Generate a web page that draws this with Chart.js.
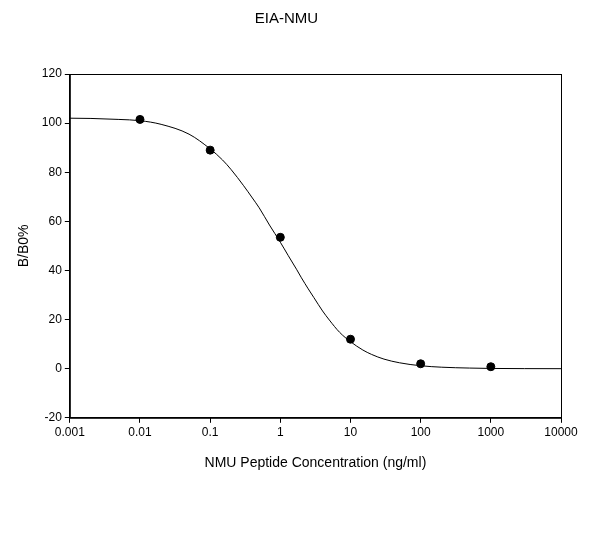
<!DOCTYPE html>
<html><head><meta charset="utf-8">
<script src="https://cdn.jsdelivr.net/npm/chart.js@4"></script>
<style>body{margin:0;background:#fff}#w{width:608px;height:534px}</style>
</head><body><div id="w"><canvas id="c"></canvas></div>
<script>
const concentrations=[0.01,0.1,1,10,100,1000];
const bb0=[101.5,89,53.5,12,2,0.8];
const curveX=[0.001,0.002,0.005,0.01,0.02,0.05,0.1,0.15,0.2,0.3,0.4,0.5,0.7,1,1.3,1.7,2,2.5,3,4,5,7,10,15,20,30,50,100,200,500,1000,3000,10000];
const curveY=[102,101.9,101.5,101,99.5,95.5,89.5,85,81,74.5,69.5,65.5,58.5,51.5,46,40.5,37,32.5,29,23.5,19.8,14.8,11,7.6,5.8,3.9,2.4,1.2,0.6,0.25,0.1,0.03,0];
const xTicks=[0.001,0.01,0.1,1,10,100,1000,10000];
const boxPlugin={id:'box',afterDraw(ch){const a=ch.chartArea,c=ch.ctx;c.save();c.strokeStyle='#000';c.lineWidth=1;c.strokeRect(a.left+0.5,a.top+0.5,a.right-a.left,a.bottom-a.top);c.restore();}};
new Chart(document.getElementById('c'),{
 type:'scatter',
 data:{datasets:[
  {type:'line',data:curveX.map((x,i)=>({x,y:curveY[i]})),borderColor:'#000',borderWidth:1,pointRadius:0,cubicInterpolationMode:'monotone'},
  {data:concentrations.map((x,i)=>({x,y:bb0[i]})),backgroundColor:'#000',borderColor:'#000',pointRadius:4}
 ]},
 plugins:[boxPlugin],
 options:{responsive:true,maintainAspectRatio:false,animation:false,
  layout:{padding:{top:0,right:47,bottom:58,left:12}},
  plugins:{legend:{display:false},tooltip:{enabled:false},
   title:{display:true,text:'EIA-NMU',color:'#000',font:{family:'Liberation Sans',size:15,weight:'normal'},padding:{top:10,bottom:46}}},
  scales:{
   x:{type:'logarithmic',min:0.001,max:10000,
    afterBuildTicks(s){s.ticks=xTicks.map(v=>({value:v}));},
    ticks:{color:'#000',font:{family:'Liberation Sans',size:12},maxRotation:0,autoSkip:false,callback:v=>String(v)},
    grid:{display:true,drawOnChartArea:false,color:'#000',tickLength:5},border:{color:'#000'},
    title:{display:true,text:'NMU Peptide Concentration (ng/ml)',color:'#000',font:{family:'Liberation Sans',size:14},padding:{top:12}}},
   y:{min:-20,max:120,
    ticks:{stepSize:20,color:'#000',font:{family:'Liberation Sans',size:12}},
    grid:{display:true,drawOnChartArea:false,color:'#000',tickLength:5},border:{color:'#000'},
    title:{display:true,text:'B/B0%',color:'#000',font:{family:'Liberation Sans',size:14},padding:{bottom:6}}}
  }}
});
</script></body></html>
